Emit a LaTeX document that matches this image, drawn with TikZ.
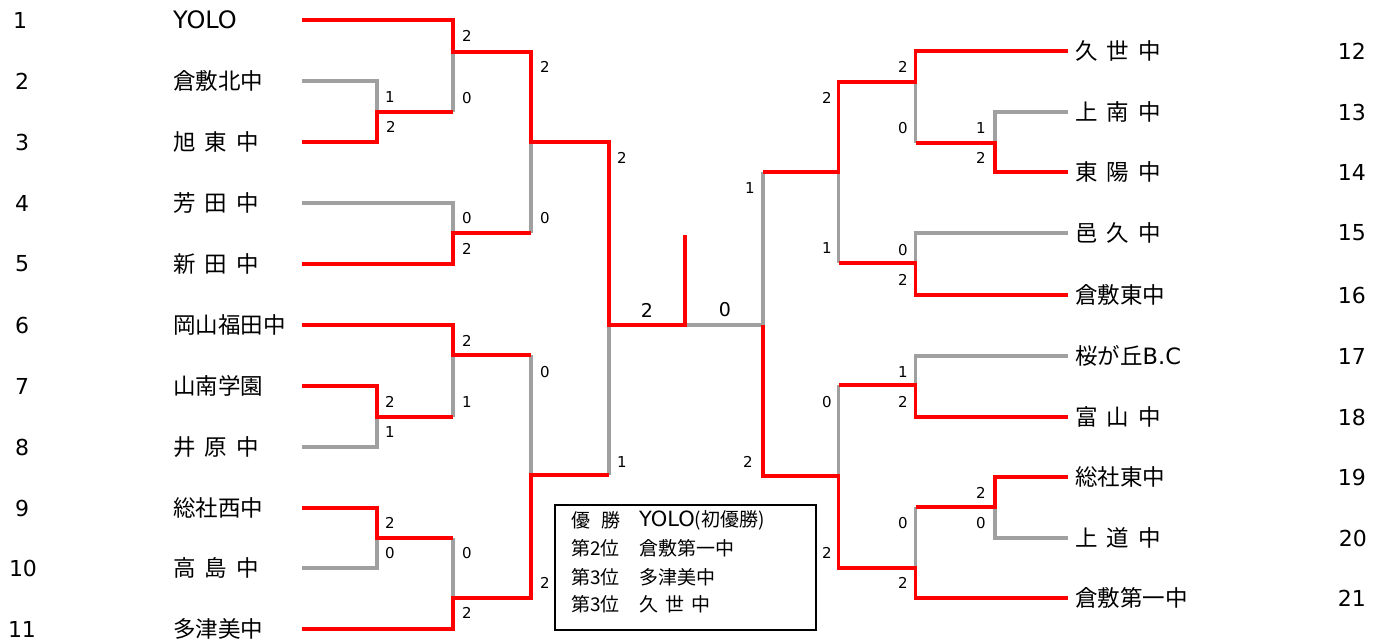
\documentclass[tikz,border=0pt]{standalone}
\usepackage{fontspec}
\setmainfont{Noto Sans CJK JP}
\newfontfamily\lat{DejaVu Sans}
\definecolor{lgrey}{RGB}{160,160,160}
\definecolor{wred}{RGB}{255,0,0}
\newcommand\gp{\hspace{9pt}}
\begin{document}
\begin{tikzpicture}[x=1pt,y=-1pt,
  win/.style={draw=wred,line width=3.6pt},
  lose/.style={draw=lgrey,line width=3.6pt},
  team/.style={anchor=west,inner sep=0pt,font=\fontsize{22.5}{24}\selectfont},
  lnum/.style={anchor=center,inner sep=0pt,font=\lat\fontsize{22}{24}\selectfont},
  rnum/.style={anchor=east,inner sep=0pt,font=\lat\fontsize{22}{24}\selectfont},
  sc/.style={anchor=center,inner sep=0pt,font=\lat\fontsize{15}{16}\selectfont},
  bigsc/.style={anchor=center,inner sep=0pt,font=\lat\fontsize{19}{20}\selectfont},
  boxtxt/.style={anchor=west,inner sep=0pt,font=\fontsize{19}{20}\selectfont}]
\useasboundingbox (0,0) rectangle (1386,643);
% ---- team line ends ----
\coordinate (L1) at (302,20);  \coordinate (L2) at (302,81);
\coordinate (L3) at (302,142); \coordinate (L4) at (302,203);
\coordinate (L5) at (302,264); \coordinate (L6) at (302,325);
\coordinate (L7) at (302,386); \coordinate (L8) at (302,447);
\coordinate (L9) at (302,508); \coordinate (L10) at (302,568);
\coordinate (L11) at (302,629);
\coordinate (R12) at (1068,51);  \coordinate (R13) at (1068,112);
\coordinate (R14) at (1068,172); \coordinate (R15) at (1068,233);
\coordinate (R16) at (1068,295); \coordinate (R17) at (1068,356);
\coordinate (R18) at (1068,417); \coordinate (R19) at (1068,477);
\coordinate (R20) at (1068,538); \coordinate (R21) at (1068,598);
% ---- match junctions ----
\coordinate (m23) at (377,112);
\coordinate (m1) at (453,52);
\coordinate (m45) at (453,233);
\coordinate (mA) at (531,142);
\coordinate (m78) at (377,417);
\coordinate (m6) at (453,355);
\coordinate (m910) at (377,538);
\coordinate (m11) at (453,598);
\coordinate (mB) at (531,475);
\coordinate (mL) at (609,325);
\coordinate (F) at (685,325);
\coordinate (Ftop) at (685,235);
\coordinate (mR) at (763,325);
\coordinate (mC) at (838.5,172);
\coordinate (m12) at (915.5,82);
\coordinate (m1314) at (995,143);
\coordinate (m1516) at (915.5,263);
\coordinate (mD) at (838.5,476);
\coordinate (m1718) at (915.5,385);
\coordinate (m21) at (915.5,568);
\coordinate (m1920) at (995,507);
% ---- losing lines ----
\draw[lose] (L2) -| (m23);
\draw[lose] (m1) -- (m1 |- m23);
\draw[lose] (L4) -| (m45);
\draw[lose] (mA) -- (mA |- m45);
\draw[lose] (m6) -- (m6 |- m78);
\draw[lose] (L8) -| (m78);
\draw[lose] (mB) -- (mB |- m6);
\draw[lose] (L10) -| (m910);
\draw[lose] (m11) -- (m11 |- m910);
\draw[lose] (mL) -- (mL |- mB);
\draw[lose] (F) -- (mR) -- (mR |- mC);
\draw[lose] (m12) -- (m12 |- m1314);
\draw[lose] (m1314) |- (R13);
\draw[lose] (mC) -- (mC |- m1516);
\draw[lose] (m1516) |- (R15);
\draw[lose] (mD) -- (mD |- m1718);
\draw[lose] (m1718) |- (R17);
\draw[lose] (m21) -- (m21 |- m1920);
\draw[lose] (m1920) |- (R20);
% ---- winning lines ----
\draw[win] (L1) -| (m1) -| (mA) -| (mL) -- (F) -- (Ftop);
\draw[win] (L3) -| (m23) -- (m23 -| m1);
\draw[win] (L5) -| (m45) -- (m45 -| mA);
\draw[win] (L6) -| (m6) -- (m6 -| mB);
\draw[win] (L7) -| (m78) -- (m78 -| m6);
\draw[win] (L9) -| (m910) -- (m910 -| m11);
\draw[win] (L11) -| (m11) -| (mB) -- (mB -| mL);
\draw[win] (mR) |- (mD) |- (m21) |- (R21);
\draw[win] (mR |- mC) -- (mC) |- (m12) |- (R12);
\draw[win] (m12 |- m1314) -- (m1314) |- (R14);
\draw[win] (mC |- m1516) -- (m1516) |- (R16);
\draw[win] (mD |- m1718) -- (m1718) |- (R18);
\draw[win] (m21 |- m1920) -- (m1920) |- (R19);
% ---- left numbers and teams ----
\node[lnum] (n1) at (20,20) {1};
\node[lnum] (n2) at (22,81) {2};
\node[lnum] (n3) at (22,142) {3};
\node[lnum] (n4) at (22,203) {4};
\node[lnum] (n5) at (22,264) {5};
\node[lnum] (n6) at (22,325) {6};
\node[lnum] (n7) at (22,386) {7};
\node[lnum] (n8) at (22,447) {8};
\node[lnum] (n9) at (22,508) {9};
\node[lnum] (n10) at (23,568) {10};
\node[lnum] (n11) at (22,629) {11};
\node[team] (t1) at (173,20) {\lat\fontsize{24}{25}\selectfont YOLO};
\node[team] (t2) at (173,81) {倉敷北中};
\node[team] (t3) at (173,142) {旭\gp 東\gp 中};
\node[team] (t4) at (173,203) {芳\gp 田\gp 中};
\node[team] (t5) at (173,264) {新\gp 田\gp 中};
\node[team] (t6) at (173,325) {岡山福田中};
\node[team] (t7) at (173,386) {山南学園};
\node[team] (t8) at (173,447) {井\gp 原\gp 中};
\node[team] (t9) at (173,508) {総社西中};
\node[team] (t10) at (173,568) {高\gp 島\gp 中};
\node[team] (t11) at (173,629) {多津美中};
% ---- right teams and numbers ----
\node[team] (t12) at (1075,51) {久\gp 世\gp 中};
\node[team] (t13) at (1075,112) {上\gp 南\gp 中};
\node[team] (t14) at (1075,172) {東\gp 陽\gp 中};
\node[team] (t15) at (1075,233) {邑\gp 久\gp 中};
\node[team] (t16) at (1075,295) {倉敷東中};
\node[team] (t17) at (1075,356) {桜が丘{\lat B.C}};
\node[team] (t18) at (1075,417) {富\gp 山\gp 中};
\node[team] (t19) at (1075,477) {総社東中};
\node[team] (t20) at (1075,538) {上\gp 道\gp 中};
\node[team] (t21) at (1075,598) {倉敷第一中};
\node[rnum] (n12) at (1366,51) {12};
\node[rnum] (n13) at (1366,112) {13};
\node[rnum] (n14) at (1366,172) {14};
\node[rnum] (n15) at (1366,233) {15};
\node[rnum] (n16) at (1366,295) {16};
\node[rnum] (n17) at (1366,356) {17};
\node[rnum] (n18) at (1366,417) {18};
\node[rnum] (n19) at (1366,477) {19};
\node[rnum] (n20) at (1367,538) {20};
\node[rnum] (n21) at (1366,598) {21};
% ---- scores left ----
\node[sc] (s1) at (390,97) {1};
\node[sc] (s2) at (391,127) {2};
\node[sc] (s3) at (467,36) {2};
\node[sc] (s4) at (467,98) {0};
\node[sc] (s5) at (545,67) {2};
\node[sc] (s6) at (545,218) {0};
\node[sc] (s7) at (467,218) {0};
\node[sc] (s8) at (467,249) {2};
\node[sc] (s9) at (622,158) {2};
\node[sc] (s10) at (622,462) {1};
\node[sc] (s11) at (467,341) {2};
\node[sc] (s12) at (467,402) {1};
\node[sc] (s13) at (390,402) {2};
\node[sc] (s14) at (390,432) {1};
\node[sc] (s15) at (545,372) {0};
\node[sc] (s16) at (545,583) {2};
\node[sc] (s17) at (390,523) {2};
\node[sc] (s18) at (390,553) {0};
\node[sc] (s19) at (467,553) {0};
\node[sc] (s20) at (467,613) {2};
% ---- final scores ----
\node[bigsc] (f1) at (647,310) {2};
\node[bigsc] (f2) at (725,310) {0};
% ---- scores right ----
\node[sc] (s21) at (750,188) {1};
\node[sc] (s22) at (748,462) {2};
\node[sc] (s23) at (827,98) {2};
\node[sc] (s24) at (827,248) {1};
\node[sc] (s25) at (903,67) {2};
\node[sc] (s26) at (903,128) {0};
\node[sc] (s27) at (981,128) {1};
\node[sc] (s28) at (981,158) {2};
\node[sc] (s29) at (903,250) {0};
\node[sc] (s30) at (903,280) {2};
\node[sc] (s31) at (827,402) {0};
\node[sc] (s32) at (827,553) {2};
\node[sc] (s33) at (903,372) {1};
\node[sc] (s34) at (903,402) {2};
\node[sc] (s35) at (903,523) {0};
\node[sc] (s36) at (903,583) {2};
\node[sc] (s37) at (981,493) {2};
\node[sc] (s38) at (981,523) {0};
% ---- result box ----
\draw[line width=2pt] (555,505) rectangle (816,630);
\node[boxtxt] (b1) at (571,520) {優\hspace{11pt}勝};
\node[boxtxt] (b2) at (571,548) {第2位};
\node[boxtxt] (b3) at (571,577) {第3位};
\node[boxtxt] (b4) at (571,604) {第3位};
\node[boxtxt] (c1) at (639,520) {{\lat\fontsize{21}{22}\selectfont YOLO}(初優勝)};
\node[boxtxt] (c2) at (639,548) {倉敷第一中};
\node[boxtxt] (c3) at (639,577) {多津美中};
\node[boxtxt] (c4) at (639,604) {久\hspace{7pt}世\hspace{7pt}中};
\end{tikzpicture}
\end{document}
